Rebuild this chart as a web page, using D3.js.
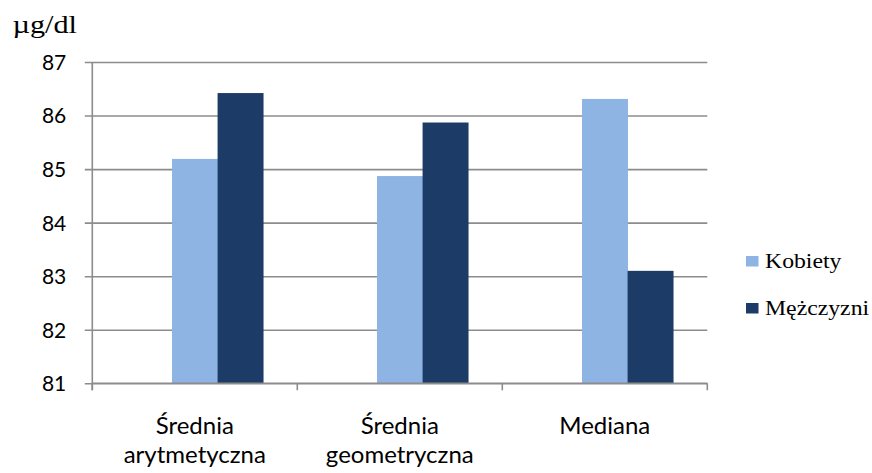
<!DOCTYPE html>
<html>
<head>
<meta charset="utf-8">
<script src="https://cdn.jsdelivr.net/npm/d3@7"></script>
<style>
  html, body { margin: 0; padding: 0; background: #ffffff; }
  svg { display: block; }
</style>
</head>
<body>
<svg id="chart" width="872" height="473"></svg>
<script>
// Mean and median values (µg/dl) for women and men
const categories = [["Średnia", "arytmetyczna"], ["Średnia", "geometryczna"], ["Mediana"]];
const seriesNames = ["Kobiety", "Mężczyzni"];
const kobiety = [85.19, 84.87, 86.31];
const mezczyzni = [86.42, 85.87, 83.10];
const yTicks = [81, 82, 83, 84, 85, 86, 87];
const unitLabel = "µg/dl";

const seriesValues = [kobiety, mezczyzni];
const colors = ["#8EB4E3", "#1C3B66"];
const sansFont = "Lato, 'Open Sans', sans-serif";
const serifFont = "'Liberation Serif', 'Times New Roman', serif";

const svg = d3.select("#chart");
const plot = { left: 92.3, right: 707.3, top: 62, bottom: 383.3 };

const y = d3.scaleLinear().domain([81, 87]).range([plot.bottom, plot.top]);
const x = d3.scaleBand()
  .domain(d3.range(categories.length))
  .range([plot.left, plot.right])
  .padding(0);

// Each group has three bar slots with a 150% gap; the first slot stays empty.
const slot = d3.scaleBand()
  .domain([0, 1, 2])
  .range([0, x.bandwidth()])
  .paddingInner(0)
  .paddingOuter(0.75);

// Widen serif text horizontally by a fixed factor
function stretch(sel, factor) {
  sel.each(function () {
    const w = this.getComputedTextLength();
    d3.select(this)
      .attr("textLength", w * factor)
      .attr("lengthAdjust", "spacingAndGlyphs");
  });
}

// Horizontal gridlines with left tick stubs
const yAxis = d3.axisLeft(y)
  .tickValues(yTicks)
  .tickSize(-(plot.right - plot.left))
  .tickPadding(26)
  .tickFormat(d3.format("d"));

const gy = svg.append("g")
  .attr("transform", `translate(${plot.left},0)`)
  .call(yAxis);
gy.select(".domain").remove();
gy.selectAll(".tick line")
  .attr("x1", -7.5)
  .attr("stroke", "#8c8c8c")
  .attr("stroke-width", 1.6);
gy.selectAll(".tick text")
  .attr("font-family", sansFont)
  .attr("font-size", 21)
  .attr("fill", "#000")
  .attr("dy", "0.35em");

// Bars
seriesValues.forEach((vals, si) => {
  svg.append("g")
    .selectAll("rect")
    .data(vals)
    .join("rect")
    .attr("x", (d, i) => x(i) + slot(si + 1))
    .attr("width", slot.bandwidth() + 0.4)
    .attr("y", d => y(d))
    .attr("height", d => y(81) - y(d))
    .attr("fill", colors[si]);
});

// Vertical axis line
svg.append("line")
  .attr("x1", plot.left).attr("x2", plot.left)
  .attr("y1", plot.top).attr("y2", plot.bottom + 7)
  .attr("stroke", "#8c8c8c")
  .attr("stroke-width", 1.6);

// Category axis with boundary ticks
const gx = svg.append("g").attr("transform", `translate(0,${plot.bottom})`);
gx.append("line")
  .attr("x1", plot.left).attr("x2", plot.right)
  .attr("stroke", "#8c8c8c").attr("stroke-width", 1.6);
gx.selectAll("line.tk")
  .data(d3.range(categories.length + 1))
  .join("line")
  .attr("class", "tk")
  .attr("x1", i => plot.left + i * x.step())
  .attr("x2", i => plot.left + i * x.step())
  .attr("y1", 0).attr("y2", 7)
  .attr("stroke", "#8c8c8c").attr("stroke-width", 1.6);

const labels = svg.append("g")
  .attr("font-family", sansFont)
  .attr("font-size", 24)
  .attr("fill", "#000")
  .attr("text-anchor", "middle");
categories.forEach((lines, i) => {
  const t = labels.append("text")
    .attr("x", x(i) + x.bandwidth() / 2)
    .attr("y", 434);
  lines.forEach((ln, k) => {
    t.append("tspan")
      .attr("x", x(i) + x.bandwidth() / 2)
      .attr("dy", k === 0 ? 0 : 29)
      .text(ln);
  });
});

// Unit label
svg.append("text")
  .attr("x", 12.5)
  .attr("y", 33)
  .attr("font-family", serifFont)
  .attr("font-size", 25)
  .attr("fill", "#000")
  .text(unitLabel)
  .attr("textLength", 64.5)
  .attr("lengthAdjust", "spacingAndGlyphs");

// Legend
const legend = svg.append("g");
seriesNames.forEach((name, i) => {
  const gy0 = 256 + i * 47;
  legend.append("rect")
    .attr("x", 746).attr("y", gy0)
    .attr("width", 12.5).attr("height", 10.5)
    .attr("fill", colors[i]);
  legend.append("text")
    .attr("x", 765).attr("y", gy0 + 12)
    .attr("font-family", serifFont)
    .attr("font-size", 21)
    .attr("fill", "#000")
    .text(name)
    .call(stretch, 1.13);
});
</script>
</body>
</html>
